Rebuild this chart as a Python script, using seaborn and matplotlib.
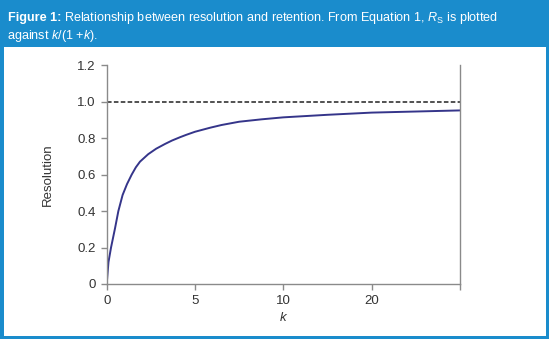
import matplotlib
matplotlib.use("Agg")
import matplotlib.pyplot as plt
from matplotlib.patches import Rectangle
import seaborn as sns
import pandas as pd

# Resolution curve, plotted on an evenly spaced k axis (0, 5, 10, 20, ...)
axis_position = [0, 0.02, 0.049, 0.094, 0.132, 0.18, 0.23, 0.283, 0.33, 0.377,
                 0.47, 0.56, 0.66, 0.74, 0.83, 0.9, 1.0, 1.17, 1.3, 1.5, 1.75,
                 2.0, 2.25, 2.5, 2.75, 3.0, 3.25, 3.5, 3.75, 4.0]
resolution = [0, 0.12, 0.2, 0.305, 0.4, 0.488, 0.548, 0.6, 0.64, 0.671,
              0.712, 0.742, 0.768, 0.787, 0.805, 0.818, 0.835, 0.857, 0.872, 0.89,
              0.903, 0.914, 0.921, 0.928, 0.934, 0.94, 0.943, 0.946, 0.949, 0.952]
k_tick_labels = ["0", "5", "10", "20", ""]
y_ticks = [0, 0.2, 0.4, 0.6, 0.8, 1.0, 1.2]
y_tick_labels = ["0", "0.2", "0.4", "0.6", "0.8", "1.0", "1.2"]
limit_value = 1.0

sns.set_style("white")
plt.rcParams["font.family"] = ["Liberation Sans", "DejaVu Sans"]
plt.rcParams["mathtext.fontset"] = "custom"
plt.rcParams["mathtext.rm"] = "Liberation Sans"
plt.rcParams["mathtext.it"] = "Liberation Sans:italic"
plt.rcParams["mathtext.bf"] = "Liberation Sans:bold"

W, H = 549, 339
fig = plt.figure(figsize=(W / 100, H / 100), dpi=100)
fig.patch.set_facecolor("white")

blue = "#1a8ccc"
# header band and frame
fig.patches.append(Rectangle((0, 1 - 47 / H), 1, 47 / H, transform=fig.transFigure,
                             facecolor=blue, edgecolor="none", zorder=0))
bw = 3.5
fig.patches.append(Rectangle((0, 0), bw / W, 1, transform=fig.transFigure,
                             facecolor=blue, edgecolor="none", zorder=0))
fig.patches.append(Rectangle((1 - bw / W, 0), bw / W, 1, transform=fig.transFigure,
                             facecolor=blue, edgecolor="none", zorder=0))
fig.patches.append(Rectangle((0, 0), 1, bw / H, transform=fig.transFigure,
                             facecolor=blue, edgecolor="none", zorder=0))

head_size = 9.1
bold = fig.text(8 / W, 1 - 21 / H, "Figure 1:", color="white", fontsize=head_size,
                fontweight="bold", ha="left", va="baseline")
renderer = fig.canvas.get_renderer()
bold_w = bold.get_window_extent(renderer).width
fig.text(8 / W + (bold_w + 3) / W, 1 - 21 / H,
         r"Relationship between resolution and retention. "
         r"From Equation 1, $R_\mathrm{S}$ is plotted",
         color="white", fontsize=head_size, ha="left", va="baseline")
fig.text(7 / W, 1 - 38.5 / H, r"against $k/$(1 +$k$).",
         color="white", fontsize=head_size, ha="left", va="baseline")

ax = fig.add_axes([106.7 / W, 1 - 284 / H, (460 - 106.7) / W, (284 - 65.2) / H])
df = pd.DataFrame({"pos": axis_position, "Resolution": resolution})
sns.lineplot(data=df, x="pos", y="Resolution", ax=ax, color="#35358a",
             linewidth=1.4, sort=True)
ax.axhline(limit_value, color="#222222", linestyle=(0, (3, 1.5)), linewidth=1.1)

ax.set_xlim(0, 4)
ax.set_ylim(0, 1.2)
ax.set_xticks(range(len(k_tick_labels)))
ax.set_xticklabels(k_tick_labels)
ax.set_yticks(y_ticks)
ax.set_yticklabels(y_tick_labels)

spine_color = "#8a8a8a"
for side in ["left", "bottom", "right"]:
    ax.spines[side].set_visible(True)
    ax.spines[side].set_color(spine_color)
    ax.spines[side].set_linewidth(1.0)
ax.spines["top"].set_visible(False)
ax.tick_params(axis="both", direction="out", length=4, width=1.0, color=spine_color,
               labelsize=9.5, labelcolor="#333333", pad=4)
ax.tick_params(axis="y", left=True, right=False)
ax.tick_params(axis="x", bottom=True)

ax.set_xlabel("$k$", fontsize=9.5, color="#333333", labelpad=3)
ax.set_ylabel("Resolution", fontsize=9.5, color="#333333", labelpad=17)

fig.savefig("out.png", dpi=100)
